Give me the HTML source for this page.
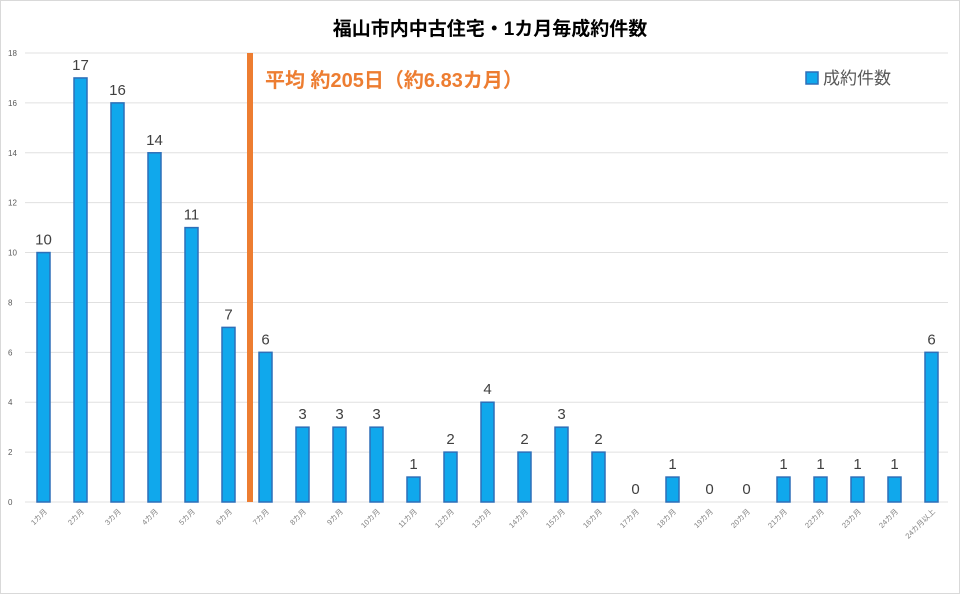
<!DOCTYPE html>
<html><head><meta charset="utf-8"><style>
body{margin:0;background:#fff}
svg{display:block;font-family:"Liberation Sans","Noto Sans CJK JP",sans-serif}
</style></head><body>
<svg id="c" width="960" height="594">
<rect x="0.5" y="0.5" width="959" height="593" fill="#fff" stroke="#d9d9d9"/>
<text x="490" y="35" font-size="19" font-weight="bold" text-anchor="middle" fill="#000">福山市内中古住宅・1カ月毎成約件数</text>
<g id="grid"></g><g id="bars"></g><g id="xl"></g>
<rect x="247" y="53" width="6" height="449" fill="#ed7d31"/>
<text x="265" y="87" font-size="20" font-weight="bold" fill="#ed7d31">平均 約205日（約6.83カ月）</text>
<rect x="806" y="72" width="12" height="12" fill="#10a8ec" stroke="#2e6fb8" stroke-width="1.5"/>
<text x="823" y="84" font-size="17" fill="#595959">成約件数</text>
</svg>
<script>
const categories=["1カ月","2カ月","3カ月","4カ月","5カ月","6カ月","7カ月","8カ月","9カ月","10カ月","11カ月","12カ月","13カ月","14カ月","15カ月","16カ月","17カ月","18カ月","19カ月","20カ月","21カ月","22カ月","23カ月","24カ月","24カ月以上"];
const values=[10,17,16,14,11,7,6,3,3,3,1,2,4,2,3,2,0,1,0,0,1,1,1,1,6];
const yTicks=[0,2,4,6,8,10,12,14,16,18];
const NS="http://www.w3.org/2000/svg";
const L=25,R=950,T=53,B=502,yMax=18;
const band=(R-L)/categories.length;
const y=v=>B-(B-T)*v/yMax;
const x=i=>L+band*(i+0.5);
function mk(p,tag,a){const e=document.createElementNS(NS,tag);for(const k in a)e.setAttribute(k,a[k]);p.appendChild(e);return e;}
const g=document.getElementById('grid'),bg=document.getElementById('bars'),xl=document.getElementById('xl');
yTicks.forEach(t=>{
 const ln=mk(g,'line',{x1:L,x2:948,y1:y(t),y2:y(t),stroke:'#e0e0e0','stroke-width':1});
 
 
 const tx=mk(g,'text',{x:8,y:y(t)+3,'font-size':8,fill:'#595959'});tx.textContent=t;
 
 
});
values.forEach((v,i)=>{
 const cx=x(i);
 const r=mk(bg,'rect',{x:cx-6.5,y:y(v),width:13,height:B-y(v),fill:'#10a8ec',stroke:'#2e6fb8','stroke-width':1.5});
 
 
 const t=mk(bg,'text',{x:cx,y:y(v)-8,'font-size':15,'text-anchor':'middle',fill:'#404040'});t.textContent=v;
 
 
 const c=mk(xl,'text',{x:cx+4,y:B+10,'font-size':7.5,'text-anchor':'end',fill:'#7f7f7f',transform:`rotate(-45 ${cx+4} ${B+10})`});c.textContent=categories[i];
 
 
});
</script>
</body></html>
